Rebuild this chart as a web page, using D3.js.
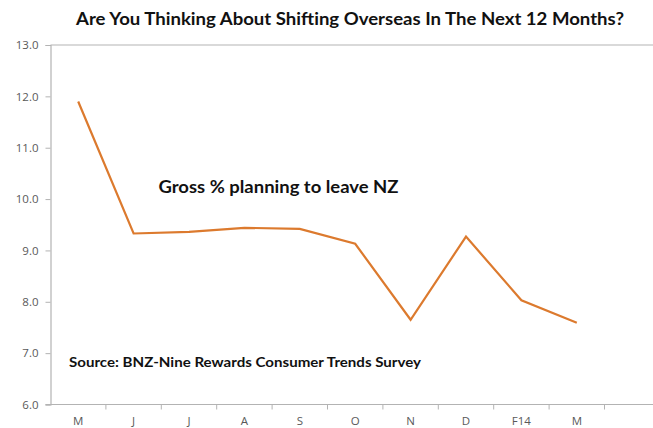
<!DOCTYPE html>
<html>
<head>
<meta charset="utf-8">
<script src="https://cdn.jsdelivr.net/npm/d3@7"></script>
<style>
  html, body { margin: 0; padding: 0; background: #fff; }
  svg { display: block; }
  text { font-family: Lato, "Open Sans", "DejaVu Sans", sans-serif; }
</style>
</head>
<body>
<svg id="chart" width="653" height="428"></svg>
<script>
// Survey months (the trailing blank slot leaves room after the last reading)
const months = ["M", "J", "J", "A", "S", "O", "N", "D", "F14", "M", ""];
// Gross % planning to leave NZ
const values = [11.9, 9.33, 9.36, 9.44, 9.42, 9.13, 7.65, 9.27, 8.03, 7.59];
const yTicks = [6, 7, 8, 9, 10, 11, 12, 13];

const titleText = "Are You Thinking About Shifting Overseas In The Next 12 Months?";
const seriesNote = "Gross % planning to leave NZ";
const sourceNote = "Source: BNZ-Nine Rewards Consumer Trends Survey";

const svg = d3.select("#chart");
const plotLeft = 50.5, bandW = 55.4;
const plotTop = 45, plotBottom = 404.5;

const x = d3.scaleBand()
  .domain(d3.range(months.length))
  .range([plotLeft, plotLeft + bandW * months.length])
  .padding(0);
const y = d3.scaleLinear().domain([6, 13]).range([plotBottom, plotTop]);

const axisGrey = "#b3b3b3";
const labelGrey = "#595959";

// Top border of the plot area at 13.0
svg.append("line")
  .attr("x1", plotLeft).attr("x2", 653)
  .attr("y1", y(13)).attr("y2", y(13))
  .attr("stroke", axisGrey).attr("stroke-width", 1.2);

// Y axis
const yAxis = svg.append("g")
  .attr("transform", `translate(${plotLeft},0)`)
  .call(d3.axisLeft(y).tickValues(yTicks).tickFormat(d3.format(".1f")).tickSize(5).tickPadding(7));
yAxis.select(".domain").attr("stroke", axisGrey).attr("stroke-width", 1.2);
yAxis.selectAll(".tick line").attr("stroke", axisGrey);
yAxis.selectAll(".tick text")
  .attr("fill", labelGrey).attr("font-size", 11.5)
  .style("font-family", "'Open Sans', Lato, sans-serif");

// X axis: ticks at band boundaries, labels centred in each band
const xAxisG = svg.append("g").attr("transform", `translate(0,${plotBottom})`);
xAxisG.append("line")
  .attr("x1", plotLeft - 5).attr("x2", 653)
  .attr("stroke", axisGrey).attr("stroke-width", 1.2);
xAxisG.selectAll("line.tk")
  .data(d3.range(1, months.length + 1))
  .join("line").attr("class", "tk")
  .attr("x1", i => x.range()[0] + i * x.bandwidth())
  .attr("x2", i => x.range()[0] + i * x.bandwidth())
  .attr("y1", 0).attr("y2", 5)
  .attr("stroke", axisGrey);
xAxisG.selectAll("text")
  .data(months)
  .join("text")
  .attr("x", (d, i) => x(i) + x.bandwidth() / 2)
  .attr("y", 20)
  .attr("text-anchor", "middle")
  .attr("fill", labelGrey)
  .attr("font-size", 11.5)
  .style("font-family", "'Open Sans', Lato, sans-serif")
  .text(d => d);

// Series line
const line = d3.line()
  .x((d, i) => x(i) + x.bandwidth() / 2)
  .y(d => y(d));
svg.append("path")
  .datum(values)
  .attr("d", line)
  .attr("fill", "none")
  .attr("stroke", "#dc7a2e")
  .attr("stroke-width", 2.2)
  .attr("stroke-linejoin", "miter");

// Title and annotations
svg.append("text")
  .attr("x", 76).attr("y", 25)
  .attr("font-size", 16.5).attr("font-weight", "bold")
  .attr("fill", "#111")
  .attr("textLength", 548).attr("lengthAdjust", "spacingAndGlyphs")
  .text(titleText);

svg.append("text")
  .attr("x", 158.5).attr("y", 193)
  .attr("font-size", 16.5).attr("font-weight", "bold")
  .attr("fill", "#111")
  .attr("textLength", 240).attr("lengthAdjust", "spacingAndGlyphs")
  .text(seriesNote);

svg.append("text")
  .attr("x", 69).attr("y", 367)
  .attr("font-size", 13.5).attr("font-weight", "bold")
  .attr("fill", "#111")
  .attr("textLength", 352).attr("lengthAdjust", "spacingAndGlyphs")
  .text(sourceNote);
</script>
</body>
</html>
